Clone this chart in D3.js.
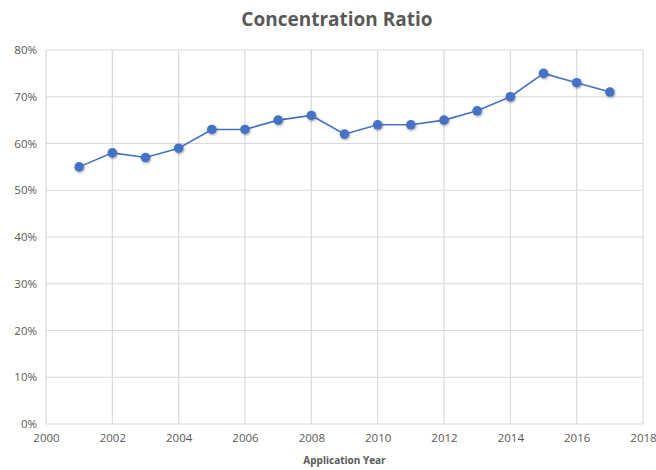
<!DOCTYPE html>
<html>
<head>
<meta charset="utf-8">
<script src="https://cdn.jsdelivr.net/npm/d3@7"></script>
<style>
  html, body { margin: 0; padding: 0; background: #fff; }
  svg { display: block; font-family: "Open Sans", "Noto Sans", sans-serif; }
</style>
</head>
<body>
<svg id="chart" width="656" height="470"></svg>
<script>
// Share of applications held by the top group, per application year
const years = [2001, 2002, 2003, 2004, 2005, 2006, 2007, 2008, 2009, 2010, 2011, 2012, 2013, 2014, 2015, 2016, 2017];
const ratio = [0.55, 0.58, 0.57, 0.59, 0.63, 0.63, 0.65, 0.66, 0.62, 0.64, 0.64, 0.65, 0.67, 0.70, 0.75, 0.73, 0.71];
const xTicks = [2000, 2002, 2004, 2006, 2008, 2010, 2012, 2014, 2016, 2018];
const yTicks = [0, 0.1, 0.2, 0.3, 0.4, 0.5, 0.6, 0.7, 0.8];
const chartTitle = "Concentration Ratio";
const xTitle = "Application Year";

const svg = d3.select("#chart");
const margin = { left: 46, right: 13, top: 50, bottom: 46 };
const W = 656, H = 470;

const x = d3.scaleLinear().domain([2000, 2018]).range([margin.left, W - margin.right]);
const y = d3.scaleLinear().domain([0, 0.8]).range([H - margin.bottom, margin.top]);

// soft shadow under the markers
const defs = svg.append("defs");
const f = defs.append("filter").attr("id", "shadow").attr("x", "-50%").attr("y", "-50%").attr("width", "200%").attr("height", "200%");
f.append("feDropShadow").attr("dx", 0.8).attr("dy", 1.2).attr("stdDeviation", 1.2).attr("flood-color", "#000").attr("flood-opacity", 0.35);

// gridlines
const grid = svg.append("g");
grid.selectAll("line.h").data(yTicks).join("line")
  .attr("x1", x(2000)).attr("x2", x(2018))
  .attr("y1", d => y(d)).attr("y2", d => y(d))
  .attr("stroke", "#d9d9d9").attr("stroke-width", 1.2);
grid.selectAll("line.v").data(xTicks).join("line")
  .attr("y1", y(0)).attr("y2", y(0.8))
  .attr("x1", d => x(d)).attr("x2", d => x(d))
  .attr("stroke", "#d9d9d9").attr("stroke-width", 1.2);

// axes (labels only)
const yAxis = svg.append("g").attr("transform", `translate(${x(2000)},0)`)
  .call(d3.axisLeft(y).tickValues(yTicks).tickFormat(d3.format(".0%")).tickSize(0).tickPadding(9));
const xAxis = svg.append("g").attr("transform", `translate(0,${y(0)})`)
  .call(d3.axisBottom(x).tickValues(xTicks).tickFormat(d3.format("d")).tickSize(0).tickPadding(10));
[yAxis, xAxis].forEach(a => {
  a.select(".domain").remove();
  a.selectAll("text").attr("fill", "#595959").style("font-size", "11.5px")
    .style("font-family", "\"Open Sans\", sans-serif");
});

// series line and markers
const line = d3.line().x((d, i) => x(years[i])).y(d => y(d));
svg.append("path").datum(ratio)
  .attr("d", line).attr("fill", "none")
  .attr("stroke", "#4472c4").attr("stroke-width", 1.6);
svg.append("g").selectAll("circle").data(ratio).join("circle")
  .attr("cx", (d, i) => x(years[i])).attr("cy", d => y(d))
  .attr("r", 4.8).attr("fill", "#4472c4")
  .attr("filter", "url(#shadow)");

// titles
svg.append("text").attr("x", 337).attr("y", 26).attr("text-anchor", "middle")
  .attr("fill", "#595959").style("font-size", "19px").style("font-weight", "bold")
  .text(chartTitle);
svg.append("text").attr("x", (x(2000) + x(2018)) / 2).attr("y", 464).attr("text-anchor", "middle")
  .attr("fill", "#595959").style("font-size", "10px").style("font-weight", "bold")
  .text(xTitle);
</script>
</body>
</html>
